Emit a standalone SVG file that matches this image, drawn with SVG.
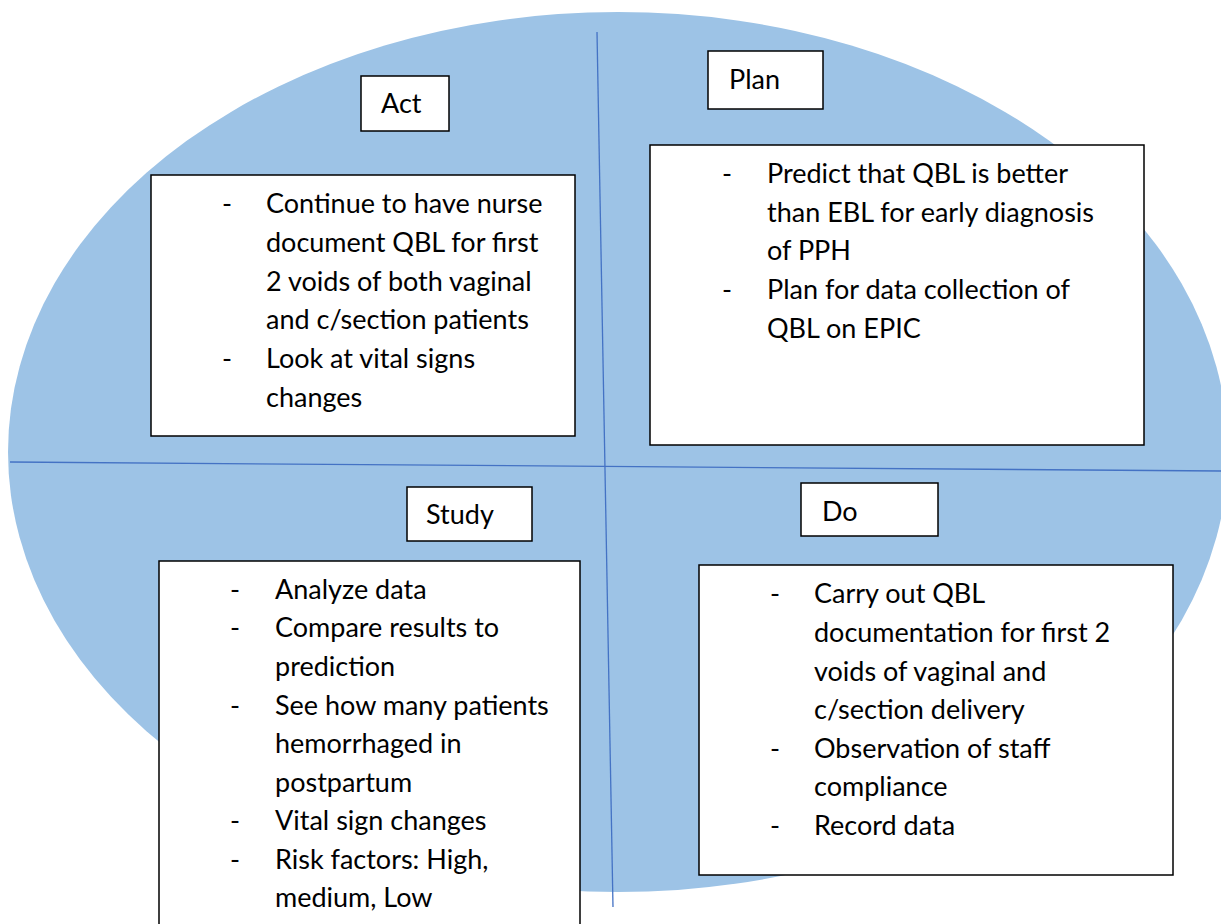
<svg xmlns="http://www.w3.org/2000/svg" width="1221" height="924" viewBox="0 0 1221 924">
  <style>
    .box { fill: #ffffff; stroke: #000000; stroke-width: 1.5; }
    .axis { stroke: #4472C4; stroke-width: 1.3; fill: none; }
    text { font-family: Lato, "Open Sans", "Liberation Sans", sans-serif; font-size: 27px; fill: #000000; }
  </style>

  <!-- background cycle -->
  <ellipse id="cycle" cx="618" cy="452" rx="610" ry="440" fill="#9DC3E6"/>

  <!-- quadrant dividers -->
  <g id="connectors">
    <line class="axis" x1="597" y1="32" x2="613" y2="907"/>
    <line class="axis" x1="10" y1="462" x2="1221" y2="471"/>
  </g>

  <!-- Act -->
  <g id="act-label">
    <rect class="box" x="361" y="76" width="88" height="55"/>
    <text x="381" y="113">Act</text>
  </g>
  <g id="act-content">
    <rect class="box" x="151" y="175" width="424" height="261"/>
    <text x="222" y="213">-</text>
    <text x="266" y="213">Continue to have nurse</text>
    <text x="266" y="252">document QBL for first</text>
    <text x="266" y="291">2 voids of both vaginal</text>
    <text x="266" y="329">and c/section patients</text>
    <text x="222" y="368">-</text>
    <text x="266" y="368">Look at vital signs</text>
    <text x="266" y="407">changes</text>
  </g>

  <!-- Plan -->
  <g id="plan-label">
    <rect class="box" x="708" y="51" width="115" height="58"/>
    <text x="729" y="89">Plan</text>
  </g>
  <g id="plan-content">
    <rect class="box" x="650" y="145" width="494" height="300"/>
    <text x="722" y="183">-</text>
    <text x="767" y="183">Predict that QBL is better</text>
    <text x="767" y="222">than EBL for early diagnosis</text>
    <text x="767" y="260">of PPH</text>
    <text x="722" y="299">-</text>
    <text x="767" y="299">Plan for data collection of</text>
    <text x="767" y="338">QBL on EPIC</text>
  </g>

  <!-- Study -->
  <g id="study-label">
    <rect class="box" x="407" y="487" width="125" height="54"/>
    <text x="426" y="524">Study</text>
  </g>
  <g id="study-content">
    <rect class="box" x="159" y="561" width="421" height="380"/>
    <text x="230" y="599">-</text>
    <text x="275" y="599">Analyze data</text>
    <text x="230" y="637">-</text>
    <text x="275" y="637">Compare results to</text>
    <text x="275" y="676">prediction</text>
    <text x="230" y="715">-</text>
    <text x="275" y="715">See how many patients</text>
    <text x="275" y="753">hemorrhaged in</text>
    <text x="275" y="792">postpartum</text>
    <text x="230" y="830">-</text>
    <text x="275" y="830">Vital sign changes</text>
    <text x="230" y="869">-</text>
    <text x="275" y="869">Risk factors: High,</text>
    <text x="275" y="907">medium, Low</text>
  </g>

  <!-- Do -->
  <g id="do-label">
    <rect class="box" x="801" y="483" width="137" height="53"/>
    <text x="822" y="521">Do</text>
  </g>
  <g id="do-content">
    <rect class="box" x="699" y="565" width="474" height="310"/>
    <text x="770" y="603">-</text>
    <text x="814" y="603">Carry out QBL</text>
    <text x="814" y="642">documentation for first 2</text>
    <text x="814" y="681">voids of vaginal and</text>
    <text x="814" y="719">c/section delivery</text>
    <text x="770" y="758">-</text>
    <text x="814" y="758">Observation of staff</text>
    <text x="814" y="796">compliance</text>
    <text x="770" y="835">-</text>
    <text x="814" y="835">Record data</text>
  </g>
</svg>
